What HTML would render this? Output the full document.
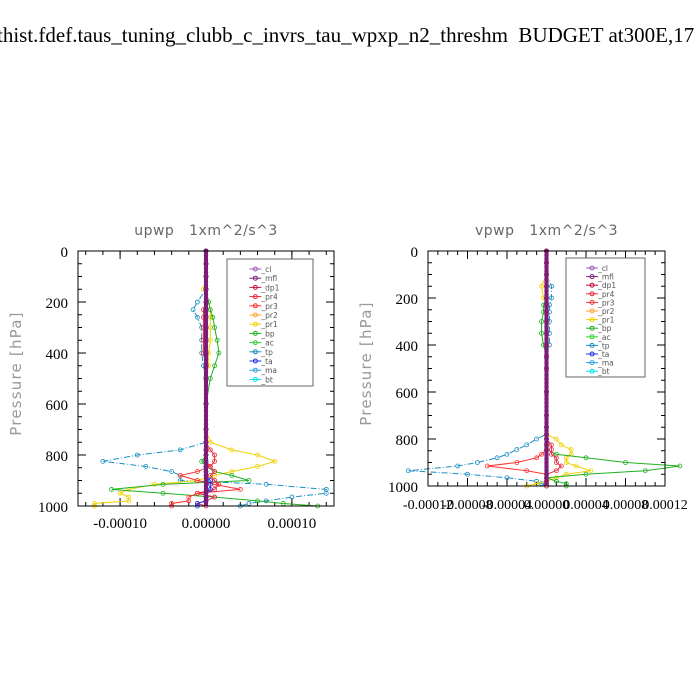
<!DOCTYPE html>
<html><head><meta charset="utf-8">
<style>
html,body{margin:0;padding:0;background:#fff;}
#wrap{position:relative;width:700px;height:700px;overflow:hidden;}
svg text{font-family:"Liberation Serif",serif;white-space:pre;}
.sans{font-family:"DejaVu Sans","Liberation Sans",sans-serif !important;}
</style></head>
<body>
<div id="wrap">
<svg id="svg" width="700" height="700" xmlns="http://www.w3.org/2000/svg">
<text x="-3" y="42" font-size="21">thist.fdef.taus_tuning_clubb_c_invrs_tau_wpxp_n2_threshm  BUDGET at300E,17</text>
</svg>
</div>
<script>
// Legend entries
const seriesNames = ["_cl","_mfl","_dp1","_pr4","_pr3","_pr2","_pr1","_bp","_ac","_tp","_ta","_ma","_bt"];
const seriesColors = ["#9b59b6","#7b1c7b","#c0143c","#e8283c","#ff3030","#ffa030","#f0d000","#20b020","#30d030","#1a8fc0","#2030e0","#30a0e0","#00e0f0"];
// Pressure levels (hPa) shared by series
const levels = [0,50,100,150,200,230,260,300,350,400,450,500,600,700,750,780,800,825,845,865,880,900,915,935,950,965,980,990,1000];
// upwp values (units 1e-5 m^2/s^3)
const upTp  = [0,0,0,0,-1,-1.5,-1,-0.5,-0.5,-0.5,-0.3,0,0,0,0,-3,-8,-12,-7,-4,-3,-3,7,14,14,10,7,5,4];
const upPr1 = [0,0,0,-0.3,0.3,0.5,0.5,0.5,0.5,0.3,0.3,0,0,0,0.5,3,6,8,6,3,1,-1,-6,-9,-10,-9,-9,-13,-13];
const upBp  = [0,0,0,0,0.3,0.5,0.8,1,1.3,1.5,1,0.5,0,0,0,0,0,-0.5,0,1,3,5,-5,-11,-5,1,6,9,13];
const upPr3 = [0,0,0,0,0,0,0,0,0,0,0,0,0,0,0,0,0,0,0.5,-1,-3,-1,1,4,-1,-2,-2,-4,-4];
const upPr4 = [0,0,0,0,0,-0.3,-0.3,-0.3,-0.3,-0.3,0,0,0,0,0,0.5,1,1,0.5,1,0.5,1,1.5,1,-1,1,0,-1,0];
const upTa  = [0,0,0,0,0,0,0,0,0,0,0,0,0,0,0,0,0,0,0,0,0,0.5,0.5,0.5,0,0,0,-1,-1];
// vpwp values (units 1e-5 m^2/s^3)
const vpTp  = [0,0,0,0.5,0.5,0.3,0.3,0.3,0.3,0.3,0,0,0,0,0,0,-1,-2,-3,-4,-5,-7,-9,-14,-8,-4,-1,-0.5,0];
const vpPr1 = [0,0,0,-0.5,-0.3,0,0,0,0,0,0,0,0,0,0,0,1,1.5,2.5,2.5,2,2,3,4.5,2,1,0,-1,-2];
const vpBp  = [0,0,0,0,0,-0.3,-0.3,-0.5,-0.5,-0.3,0,0,0,0,0,0,0,0,0,1,4,8,13.5,10,4,0,1,2,2];
const vpPr3 = [0,0,0,0,0,0,0,0,0,0,0,0,0,0,0,0,0,0,0,-0.5,-1,-3,-6,-2,0,0,0,0,0];
const vpPr4 = [0,0,0,0,0,0,0,0,0,0,0,0,0,0,0,0,0,0.5,0.5,0.5,1,1,1.5,1,0,0,0,0,0];
const yTicks = [0,200,400,600,800,1000];
const upXTicks = [-10,0,10];
const upXLabels = ["-0.00010","0.00000","0.00010"];
const vpXTicks = [-12,-8,-4,0,4,8,12];
const vpXLabels = ["-0.00012","-0.00008","-0.00004","0.00000","0.00004","0.00008","0.00012"];

const NS="http://www.w3.org/2000/svg";
const svg=document.getElementById('svg');
function mk(tag,attrs,parent){const e=document.createElementNS(NS,tag);for(const k in attrs)e.setAttribute(k,attrs[k]);(parent||svg).appendChild(e);return e;}

function panel(cfg){
  const g=mk('g',{});
  
  
  const xs=v=>cfg.x0+(v-cfg.xmin)/(cfg.xmax-cfg.xmin)*(cfg.x1-cfg.x0);
  const ys=p=>cfg.y0+p/1000*(cfg.y1-cfg.y0);
  for(let p=0;p<=1000;p+=50){const y=ys(p);const L=p%200===0?8:4;
    mk('line',{x1:cfg.x0,y1:y,x2:cfg.x0+L,y2:y,stroke:'#000','stroke-width':1},g);
    mk('line',{x1:cfg.x1,y1:y,x2:cfg.x1-L,y2:y,stroke:'#000','stroke-width':1},g);}
  for(let v=Math.ceil(cfg.xmin);v<=cfg.xmax;v+=cfg.minor){const x=xs(v);
    mk('line',{x1:x,y1:cfg.y1,x2:x,y2:cfg.y1-4,stroke:'#000'},g);
    mk('line',{x1:x,y1:cfg.y0,x2:x,y2:cfg.y0+4,stroke:'#000'},g);}
  cfg.xticks.forEach((v,i)=>{const x=xs(v);
    mk('line',{x1:x,y1:cfg.y1,x2:x,y2:cfg.y1-8,stroke:'#000'},g);
    mk('line',{x1:x,y1:cfg.y0,x2:x,y2:cfg.y0+8,stroke:'#000'},g);
    const t=mk('text',{x:x,y:cfg.y1+cfg.xly,'font-size':cfg.fs,'text-anchor':'middle'},g);t.textContent=cfg.xlabels[i];
    
    });
  yTicks.forEach(p=>{const t=mk('text',{x:cfg.x0-10,y:ys(p)+6,'font-size':15,'text-anchor':'end'},g);t.textContent=p;
    
    });
  cfg.series.forEach(s=>{
    const pts=levels.map((p,i)=>xs(s.v[i])+','+ys(p)).join(' ');
    const pl=mk('polyline',{points:pts,fill:'none',stroke:s.c,'stroke-width':1,'stroke-dasharray':s.d||''},g);
    
    
    levels.forEach((p,i)=>{mk('circle',{cx:xs(s.v[i]),cy:ys(p),r:2,fill:'none',stroke:s.c,'stroke-width':0.8},g);});
  });
  const z=mk('line',{x1:xs(0),y1:cfg.y0,x2:xs(0),y2:cfg.y1,stroke:'#8b1a6b','stroke-width':4},g);
  
  
  for(let p=0;p<=1000;p+=17){mk('circle',{cx:xs(0),cy:ys(p),r:2.2,fill:'#7b1c7b'},g);}
  mk('rect',{x:cfg.x0,y:cfg.y0,width:cfg.x1-cfg.x0,height:cfg.y1-cfg.y0,fill:'none',stroke:'#000','stroke-width':1},g);
  const tt=mk('text',{x:(cfg.x0+cfg.x1)/2,y:cfg.y0-16,'font-size':14,'text-anchor':'middle',fill:'#666',class:'sans','letter-spacing':'0.5'},g);
  tt.textContent=cfg.title;
  
  
  const yl=mk('text',{x:0,y:0,'font-size':15,'text-anchor':'middle',fill:'#999',class:'sans','letter-spacing':'1.2',transform:`translate(${cfg.x0-57},${(cfg.y0+cfg.y1)/2-5}) rotate(-90)`},g);
  yl.textContent='Pressure [hPa]';
  
  
  const lg=mk('g',{},g);
  
  
  mk('rect',{x:cfg.lx,y:cfg.ly,width:cfg.lw,height:cfg.lh,fill:'#fff',stroke:'#666'},lg);
  seriesNames.forEach((n,i)=>{const y=cfg.ly+10+i*cfg.lstep;const mx=cfg.lx+cfg.lw*0.33;
    mk('line',{x1:mx-6,y1:y,x2:mx+6,y2:y,stroke:seriesColors[i]},lg);
    mk('circle',{cx:mx,cy:y,r:2,fill:'none',stroke:seriesColors[i]},lg);
    const t=mk('text',{x:mx+6,y:y+3,'font-size':7.5,fill:'#555',class:'sans'},lg);t.textContent=n;
    
    });
}

panel({name:'upwp',title:'upwp   1xm^2/s^3',x0:78,x1:334,y0:251,y1:506,xmin:-14.9,xmax:14.9,minor:2,
  xticks:upXTicks,xlabels:upXLabels,fs:15,xly:22,lx:227,ly:259,lw:86,lh:127,lstep:9.2,
  series:[{n:'-tp',v:upTp,c:'#1a8fc0',d:'6,2,1,2'},{n:'-pr1',v:upPr1,c:'#f0d000'},{n:'-bp',v:upBp,c:'#20b020'},
          {n:'-pr3',v:upPr3,c:'#ff3030'},{n:'-pr4',v:upPr4,c:'#e8283c'},{n:'-ta',v:upTa,c:'#2030e0'}]});
panel({name:'vpwp',title:'vpwp   1xm^2/s^3',x0:428,x1:665,y0:251,y1:486,xmin:-12,xmax:12,minor:1,
  xticks:vpXTicks,xlabels:vpXLabels,fs:14,xly:23,lx:566,ly:258,lw:79,lh:119,lstep:8.6,
  series:[{n:'-tp',v:vpTp,c:'#1a8fc0',d:'6,2,1,2'},{n:'-pr1',v:vpPr1,c:'#f0d000'},{n:'-bp',v:vpBp,c:'#20b020'},
          {n:'-pr3',v:vpPr3,c:'#ff3030'},{n:'-pr4',v:vpPr4,c:'#e8283c'}]});
</script>
</body></html>
